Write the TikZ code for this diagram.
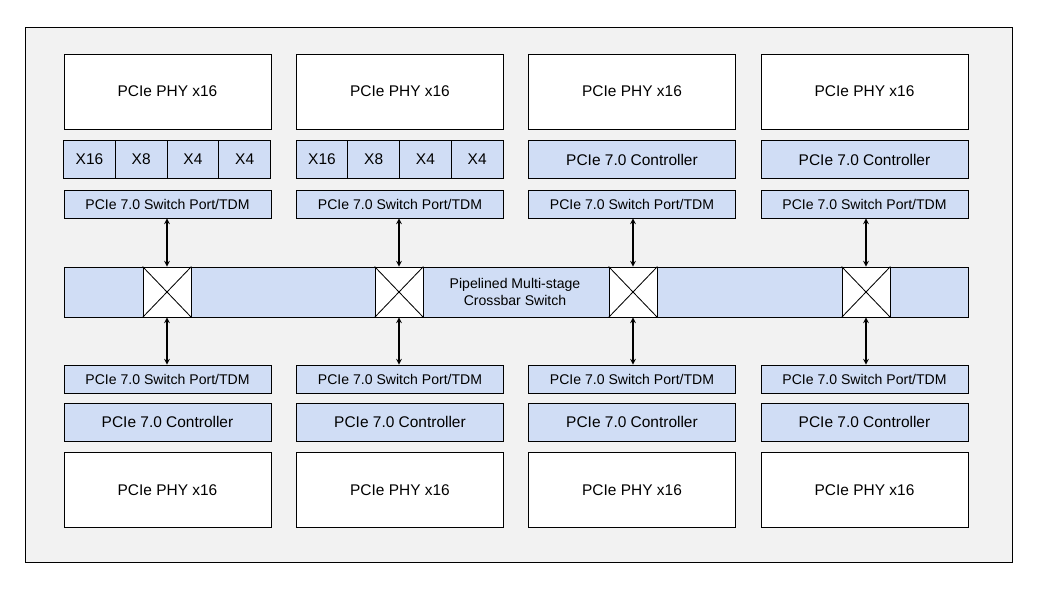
\documentclass[tikz,border=0pt]{standalone}
\usepackage{fontspec}
\setmainfont{Liberation Sans}
\definecolor{bgray}{HTML}{F2F2F2}
\definecolor{lblue}{HTML}{D0DDF5}
\begin{document}
\begin{tikzpicture}[x=0.025cm, y=-0.025cm, semithick,
    phy/.style={rectangle, draw, fill=white, minimum width=207*0.025cm, minimum height=75*0.025cm, font=\fontsize{11}{13}\selectfont},
    ctrl/.style={rectangle, draw, fill=lblue, minimum width=207*0.025cm, minimum height=38*0.025cm, font=\fontsize{11}{13}\selectfont},
    lane/.style={rectangle, draw, fill=lblue, minimum width=51.75*0.025cm, minimum height=38*0.025cm, font=\fontsize{11}{13}\selectfont},
    port/.style={rectangle, draw, fill=lblue, minimum width=207*0.025cm, minimum height=28*0.025cm, font=\fontsize{10}{11}\selectfont},
    xbox/.style={rectangle, draw, fill=white, minimum width=48*0.025cm, minimum height=50*0.025cm},
    link/.style={<->, thick, >=stealth}
]
    \useasboundingbox (0,0) rectangle (1040,589);
    \draw[fill=bgray] (25,27) rectangle (1012,562);

    % Crossbar
    \node[rectangle, draw, fill=lblue, minimum width=904*0.025cm, minimum height=50*0.025cm] (xbar) at (516,292) {};
    \node[font=\fontsize{10}{12}\selectfont, align=center] (xlabel) at (515,292) {Pipelined Multi-stage\\Crossbar Switch};

    % Columns
    \foreach \i/\cx/\sx in {1/167.5/167, 2/400/399, 3/632/633, 4/864.5/866} {
        \node[phy] (tphy\i) at (\cx,91.5) {PCIe PHY x16};
        \node[port] (tport\i) at (\cx,204) {PCIe 7.0 Switch Port/TDM};
        \node[xbox] (sw\i) at (\sx,292) {};
        \draw (sw\i.north west) -- (sw\i.south east) (sw\i.north east) -- (sw\i.south west);
        \node[port] (bport\i) at (\cx,379) {PCIe 7.0 Switch Port/TDM};
        \node[ctrl] (bctrl\i) at (\cx,422) {PCIe 7.0 Controller};
        \node[phy] (bphy\i) at (\cx,490) {PCIe PHY x16};
        \draw[link] (tport\i.south -| sw\i) -- (sw\i.north);
        \draw[link] (sw\i.south) -- (bport\i.north -| sw\i);
    }

    % Lane splits
    \foreach \i in {1,2} {
        \foreach \k/\t in {0/X16, 1/X8, 2/X4, 3/X4} {
            \node[lane] (lane\i\k) at ([xshift=(25.875+51.75*\k)*0.025cm]tphy\i.west |- 0,159.5) {\t};
        }
    }
    \node[ctrl] (tctrl3) at (632,159.5) {PCIe 7.0 Controller};
    \node[ctrl] (tctrl4) at (864.5,159.5) {PCIe 7.0 Controller};
\end{tikzpicture}
\end{document}
